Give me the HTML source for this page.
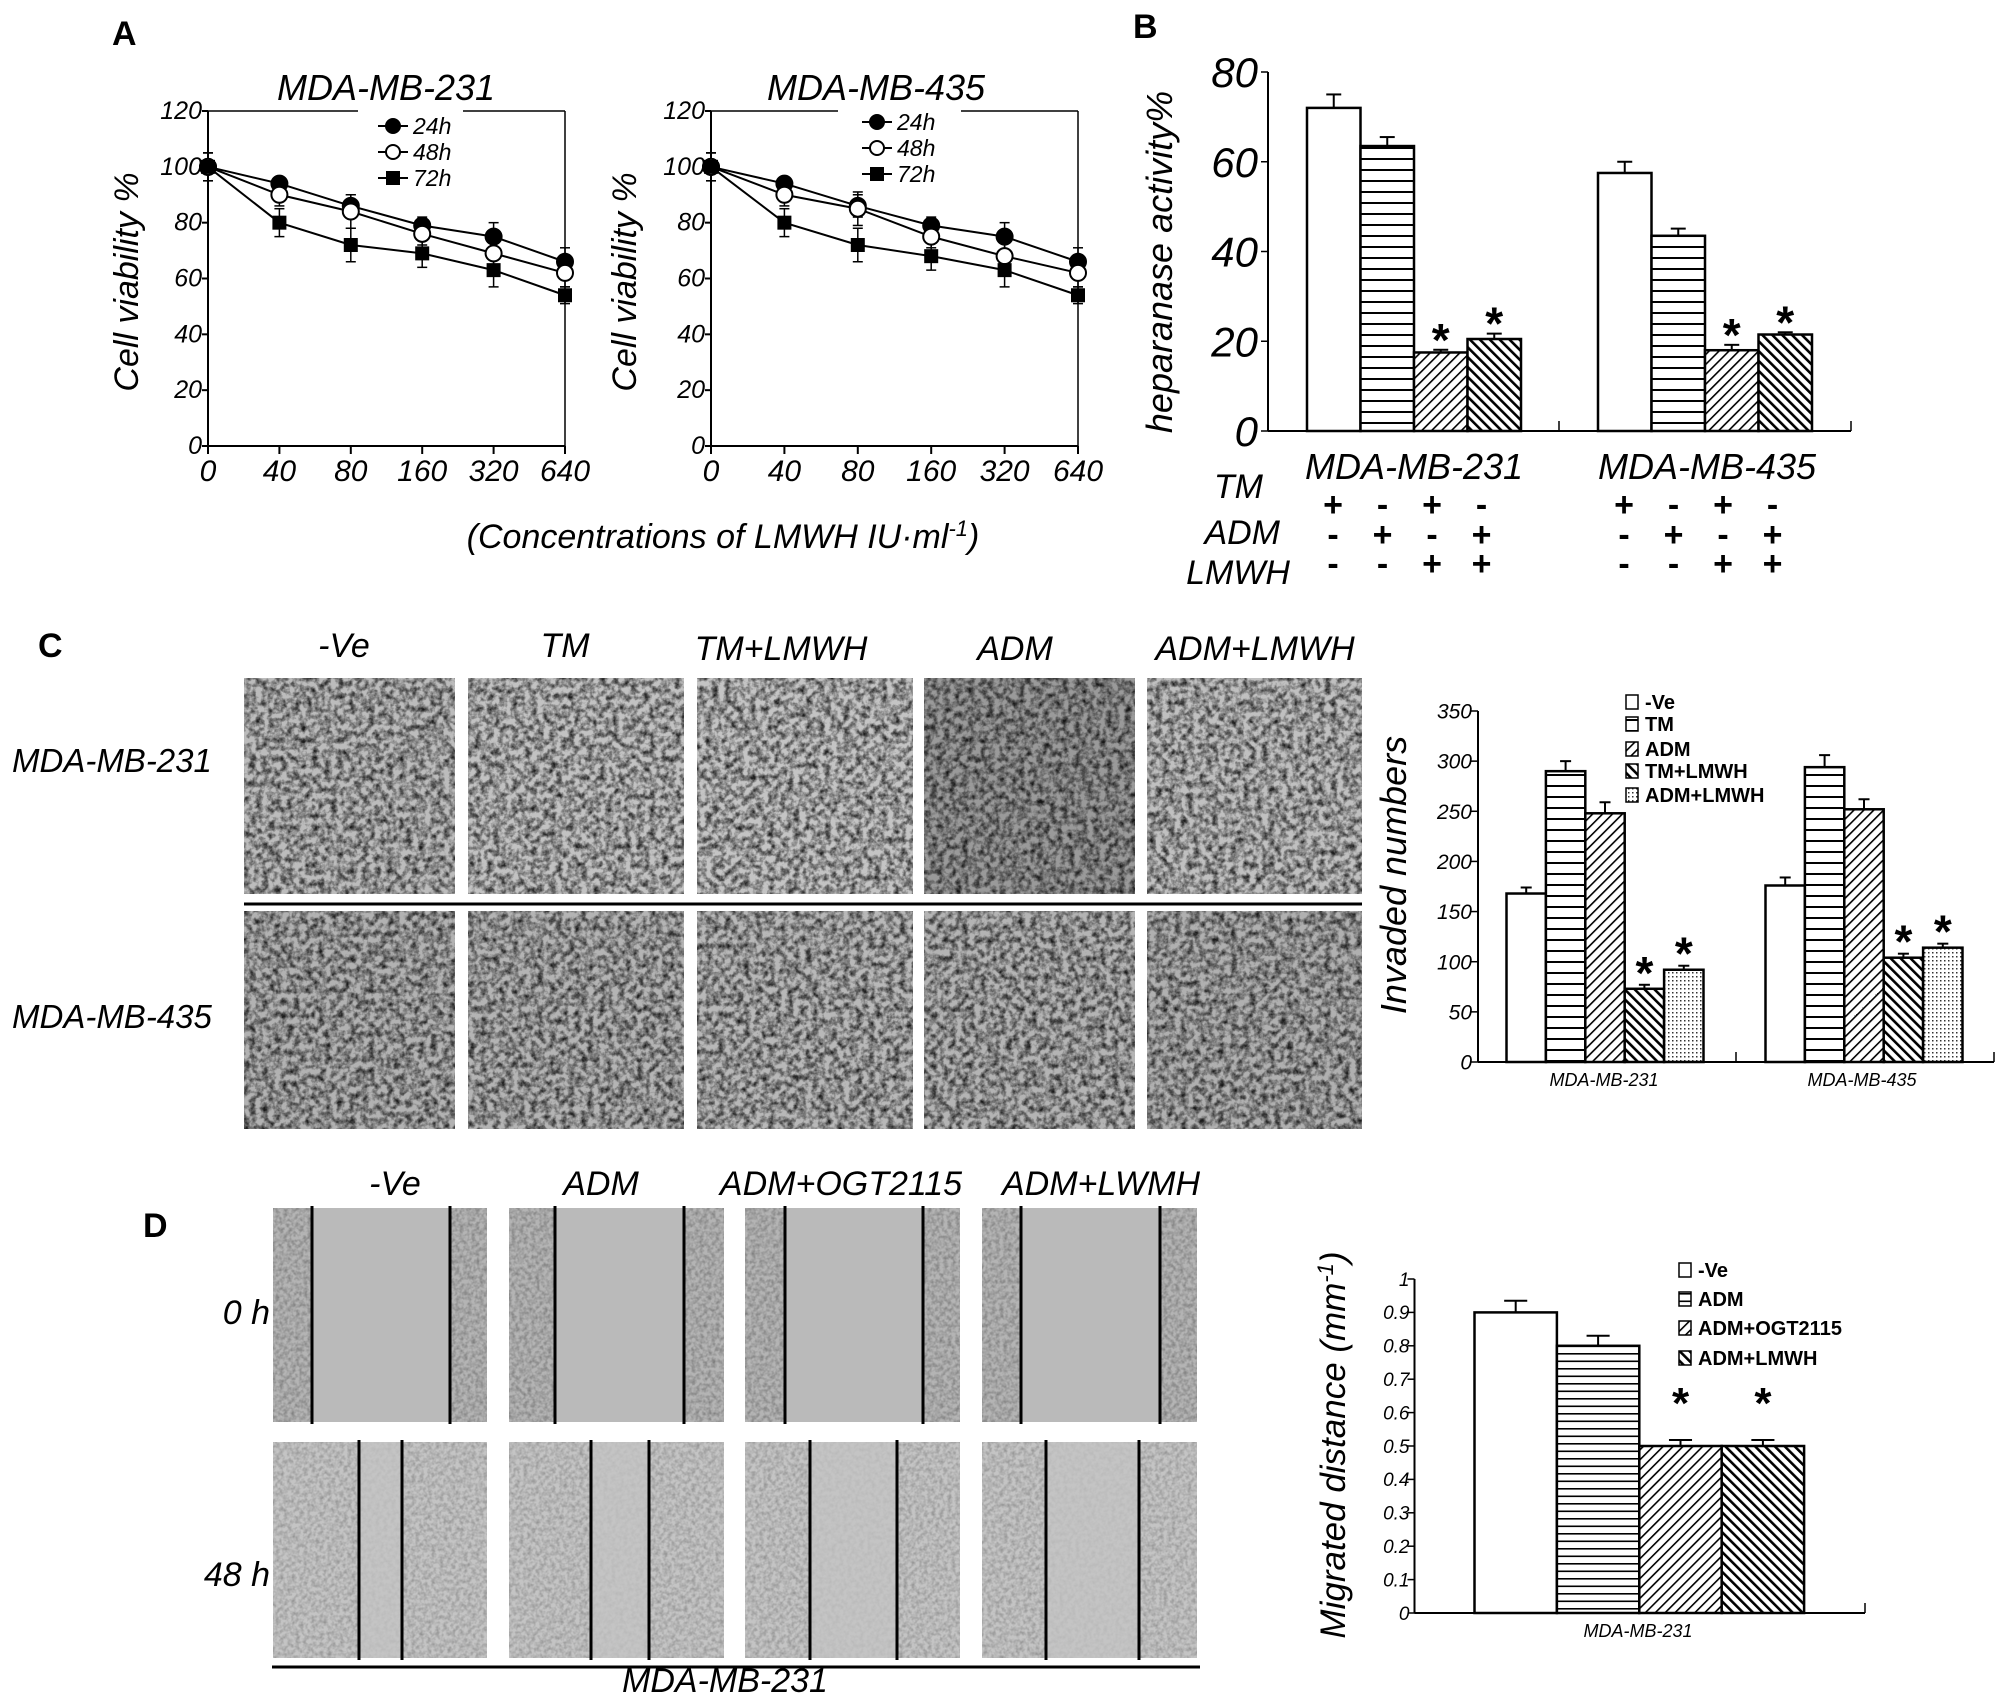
<!DOCTYPE html>
<html><head><meta charset="utf-8"><style>
html,body{margin:0;padding:0;background:#fff;}
svg{display:block;}
text{font-family:"Liberation Sans Narrow","Liberation Sans",sans-serif;fill:#000;}
.it{font-style:italic;}
.w{font-family:"Liberation Sans",sans-serif;}
</style></head><body>
<svg id="fig" xmlns="http://www.w3.org/2000/svg" width="2008" height="1701" viewBox="0 0 2008 1701">
<defs>
<pattern id="hl" width="10" height="11" patternUnits="userSpaceOnUse"><rect width="10" height="11" fill="#fff"/><rect y="4" width="10" height="2" fill="#000"/></pattern>
<pattern id="hl8" width="10" height="7.5" patternUnits="userSpaceOnUse"><rect width="10" height="7.5" fill="#fff"/><rect y="3" width="10" height="1.6" fill="#000"/></pattern>
<pattern id="d1" width="7" height="7" patternUnits="userSpaceOnUse" patternTransform="rotate(45)"><rect width="7" height="7" fill="#fff"/><rect width="1.6" height="7" fill="#000"/></pattern>
<pattern id="d2" width="7" height="7" patternUnits="userSpaceOnUse" patternTransform="rotate(-45)"><rect width="7" height="7" fill="#fff"/><rect width="2.6" height="7" fill="#000"/></pattern>
<pattern id="dt" width="4" height="4" patternUnits="userSpaceOnUse"><rect width="4" height="4" fill="#fff"/><rect width="1.5" height="1.5" fill="#333"/></pattern>
<filter id="cells" x="0" y="0" width="100%" height="100%"><feTurbulence type="fractalNoise" baseFrequency="0.16" numOctaves="3" seed="4"/><feColorMatrix type="matrix" values="0 0 0 0 0  0 0 0 0 0  0 0 0 0 0  2.0 0 0 0 -0.72"/></filter>
<filter id="cells2" x="0" y="0" width="100%" height="100%"><feTurbulence type="fractalNoise" baseFrequency="0.25" numOctaves="2" seed="9"/><feColorMatrix type="matrix" values="0 0 0 0 0  0 0 0 0 0  0 0 0 0 0  1.0 0 0 0 -0.35"/></filter>
</defs>

<!-- Panel labels -->
<text x="112" y="45" font-size="34" font-weight="bold" class="w">A</text>
<text x="1133" y="38" font-size="34" font-weight="bold" class="w">B</text>
<text x="38" y="657" font-size="34" font-weight="bold" class="w">C</text>
<text x="143" y="1237" font-size="34" font-weight="bold" class="w">D</text>

<!-- Panel A texts -->
<text x="386" y="100" font-size="36" class="it" text-anchor="middle">MDA-MB-231</text>
<text x="876" y="100" font-size="36" class="it" text-anchor="middle">MDA-MB-435</text>
<text transform="translate(138,282) rotate(-90)" font-size="34" class="it w" text-anchor="middle">Cell viability %</text>
<text transform="translate(636,282) rotate(-90)" font-size="34" class="it w" text-anchor="middle">Cell viability %</text>
<text x="723" y="548" font-size="34" class="it" text-anchor="middle">(Concentrations of LMWH IU·ml<tspan dy="-12" font-size="22">-1</tspan><tspan dy="12">)</tspan></text>

<!-- Panel B texts -->
<text transform="translate(1172,262) rotate(-90)" font-size="36" class="it w" text-anchor="middle">heparanase activity%</text>
<text x="1414" y="479" font-size="36" class="it" text-anchor="middle">MDA-MB-231</text>
<text x="1707" y="479" font-size="36" class="it" text-anchor="middle">MDA-MB-435</text>
<text x="1263" y="498" font-size="34" class="it" text-anchor="end">TM</text>
<text x="1280" y="544" font-size="34" class="it" text-anchor="end">ADM</text>
<text x="1290" y="584" font-size="34" class="it" text-anchor="end">LMWH</text>

<!-- Panel C texts -->
<text x="344" y="657" font-size="34" class="it" text-anchor="middle">-Ve</text>
<text x="565" y="657" font-size="34" class="it" text-anchor="middle">TM</text>
<text x="781" y="660" font-size="34" class="it" text-anchor="middle">TM+LMWH</text>
<text x="1015" y="660" font-size="34" class="it" text-anchor="middle">ADM</text>
<text x="1255" y="660" font-size="34" class="it" text-anchor="middle">ADM+LMWH</text>
<text x="12" y="772" font-size="33" class="it w">MDA-MB-231</text>
<text x="12" y="1028" font-size="33" class="it w">MDA-MB-435</text>
<text transform="translate(1406,875) rotate(-90)" font-size="36" class="it w" text-anchor="middle">Invaded numbers</text>
<text x="1604" y="1086" font-size="18" class="it" text-anchor="middle">MDA-MB-231</text>
<text x="1862" y="1086" font-size="18" class="it" text-anchor="middle">MDA-MB-435</text>

<!-- Panel D texts -->
<text x="395" y="1195" font-size="34" class="it" text-anchor="middle">-Ve</text>
<text x="601" y="1195" font-size="34" class="it" text-anchor="middle">ADM</text>
<text x="841" y="1195" font-size="34" class="it" text-anchor="middle">ADM+OGT2115</text>
<text x="1101" y="1195" font-size="34" class="it" text-anchor="middle">ADM+LWMH</text>
<text x="270" y="1324" font-size="34" class="it" text-anchor="end">0 h</text>
<text x="270" y="1586" font-size="34" class="it" text-anchor="end">48 h</text>
<text x="725" y="1692" font-size="34" class="it" text-anchor="middle">MDA-MB-231</text>
<text transform="translate(1345,1445) rotate(-90)" font-size="35" class="it w" text-anchor="middle">Migrated distance (mm<tspan dy="-12" font-size="22">-1</tspan><tspan dy="12">)</tspan></text>
<text x="1638" y="1637" font-size="18" class="it" text-anchor="middle">MDA-MB-231</text>
<g id="root"></g>
</svg>
<script>
// ---------- Panel A data ----------
const doseLabels = ['0','40','80','160','320','640'];
const yTicksA = [0,20,40,60,80,100,120];
const a231_24 = [100,94,86,79,75,66];
const a231_48 = [100,90,84,76,69,62];
const a231_72 = [100,80,72,69,63,54];
const a231_e24 = [5,2,4,3,5,5];
const a231_e48 = [5,4,6,4,5,5];
const a231_e72 = [5,5,6,5,6,3];
const a435_24 = [100,94,86,79,75,66];
const a435_48 = [100,90,85,75,68,62];
const a435_72 = [100,80,72,68,63,54];
const a435_e24 = [5,2,4,3,5,5];
const a435_e48 = [5,4,6,4,5,5];
const a435_e72 = [5,5,6,5,6,3];
const seriesNames = ['24h','48h','72h'];
// ---------- Panel B data ----------
const bGroups = ['MDA-MB-231','MDA-MB-435'];
const bTicks = [0,20,40,60,80];
const b231 = [72,63.5,17.5,20.5];
const b435 = [57.5,43.5,18,21.5];
const b231err = [3,2,0.6,1.2];
const b435err = [2.5,1.6,1.2,0.5];
const bStars = [2,3];
const bTM = ['+','-','+','-'];
const bADM = ['-','+','-','+'];
const bLMWH = ['-','-','+','+'];
// ---------- Panel C data ----------
const cCategories = ['-Ve','TM','ADM','TM+LMWH','ADM+LMWH'];
const cTicks = [0,50,100,150,200,250,300,350];
const c231 = [168,290,248,73,92];
const c435 = [176,294,252,104,114];
const c231err = [6,10,11,4,4];
const c435err = [8,12,10,4,4];
const cStars = [3,4];
// ---------- Panel D data ----------
const dCategories = ['-Ve','ADM','ADM+OGT2115','ADM+LMWH'];
const dTicks = [0,0.1,0.2,0.3,0.4,0.5,0.6,0.7,0.8,0.9,1];
const dVals = [0.9,0.8,0.5,0.5];
const dErr = [0.035,0.03,0.018,0.018];
const dStars = [2,3];

const NS='http://www.w3.org/2000/svg';
const root=document.getElementById('root');
function mk(tag,attrs,parent){const e=document.createElementNS(NS,tag);for(const k in attrs)e.setAttribute(k,attrs[k]);(parent||root).appendChild(e);return e;}
function ln(x1,y1,x2,y2,w,name){const e=mk('line',{x1:x1,y1:y1,x2:x2,y2:y2,stroke:'#000','stroke-width':w||2});


return e;}
function tx(x,y,s,size,anchor,name,extra){const e=mk('text',Object.assign({x:x,y:y,'font-size':size,'text-anchor':anchor||'middle'},extra||{}));e.textContent=s;


return e;}

// ---------- Micrographs C ----------
const cCols=[[244,455],[468,684],[697,913],[924,1135],[1147,1362]];
const cRows=[[678,894],[911,1129]];
const cBase=[['#bcbcbc','#c2c2c2','#c4c4c4','#9a9a9a','#c0c0c0'],['#b2b2b2','#b4b4b4','#b8b8b8','#b4b4b4','#b0b0b0']];
cRows.forEach((r,ri)=>cCols.forEach((c,ci)=>{
  const g=mk('g',{});
  
  
  mk('rect',{x:c[0],y:r[0],width:c[1]-c[0],height:r[1]-r[0],fill:cBase[ri][ci]},g);
  mk('rect',{x:c[0],y:r[0],width:c[1]-c[0],height:r[1]-r[0],fill:'#222',filter:'url(#cells)',opacity:0.85},g);
}));
ln(244,904,1362,904,3,'row-separator');

// ---------- Micrographs D ----------
const dCols=[[273,487],[509,724],[745,960],[982,1197]];
const dRows=[[1208,1422],[1442,1658]];
const dLines=[[[312,450],[555,684],[785,923],[1021,1160]],[[359,402],[591,649],[810,897],[1046,1139]]];
dRows.forEach((r,ri)=>dCols.forEach((c,ci)=>{
  const g=mk('g',{});
  
  
  const L=dLines[ri][ci];
  mk('rect',{x:c[0],y:r[0],width:c[1]-c[0],height:r[1]-r[0],fill:ri?'#c4c4c4':'#b4b4b4'},g);
  mk('rect',{x:c[0],y:r[0],width:c[1]-c[0],height:r[1]-r[0],fill:'#000',filter:'url(#cells2)',opacity:ri?0.45:0.55},g);
  mk('rect',{x:L[0],y:r[0],width:L[1]-L[0],height:r[1]-r[0],fill:ri?'#c4c4c4':'#bababa',opacity:ri?0.75:1},g);
  L.forEach(x=>{const l=mk('line',{x1:x,y1:r[0]-2,x2:x,y2:r[1]+2,stroke:'#000','stroke-width':3},g);
  
  });
}));
ln(272,1667,1200,1667,3,'d-underline');

// ---------- Line charts A ----------
function lineChart(p,ax,xEnd,yTop,yBot,series,errs,gapL,gapR,legX,legY){
  const xs=i=>ax+i*(xEnd-ax)/(doseLabels.length-1);
  const ys=v=>yBot-v/120*(yBot-yTop);
  ln(ax,yTop,ax,yBot,2,p+'-y-axis');
  ln(ax,yBot,xEnd,yBot,2,p+'-x-axis');
  ln(ax,yTop,gapL,yTop,1.5,p+'-frame-top-left');
  ln(gapR,yTop,xEnd,yTop,1.5,p+'-frame-top-right');
  ln(xEnd,yTop,xEnd,yBot,1.5,p+'-frame-right');
  yTicksA.forEach(t=>{ln(ax-6,ys(t),ax,ys(t),2,p+'-y-tick');tx(ax-6,ys(t)+8,String(t),25,'end',p+'-y-tick-label',{class:'it'});});
  doseLabels.forEach((d,i)=>{ln(xs(i),yBot,xs(i),yBot+8,2,p+'-x-tick');tx(xs(i),yBot+35,d,30,'middle',p+'-x-tick-label',{class:'it'});});
  series.forEach((s,si)=>{
    const pts=s.map((v,i)=>xs(i)+','+ys(v)).join(' ');
    const pl=mk('polyline',{points:pts,fill:'none',stroke:'#000','stroke-width':2});
    
    
    s.forEach((v,i)=>{const e=errs[si][i];
      ln(xs(i),ys(v+e),xs(i),ys(v-e),1.5,p+'-error-bar');
      ln(xs(i)-5,ys(v+e),xs(i)+5,ys(v+e),1.5,p+'-error-cap');
      ln(xs(i)-5,ys(v-e),xs(i)+5,ys(v-e),1.5,p+'-error-cap');});
  });
  series.forEach((s,si)=>s.forEach((v,i)=>{
    let m;
    if(si===2)m=mk('rect',{x:xs(i)-7,y:ys(v)-7,width:14,height:14,fill:'#000'});
    else m=mk('circle',{cx:xs(i),cy:ys(v),r:8,fill:si?'#fff':'#000',stroke:'#000','stroke-width':2});
    
    
  }));
  seriesNames.forEach((n,si)=>{const y=legY+si*26;
    ln(legX-15,y,legX+15,y,2,p+'-legend-line');
    let m;
    if(si===2)m=mk('rect',{x:legX-7,y:y-7,width:14,height:14,fill:'#000'});
    else m=mk('circle',{cx:legX,cy:y,r:7,fill:si?'#fff':'#000',stroke:'#000','stroke-width':2});
    
    
    tx(legX+20,y+8,n,23,'start',p+'-legend-entry',{class:'it'});
  });
}
lineChart('chart-a1',208,565,111,446,[a231_24,a231_48,a231_72],[a231_e24,a231_e48,a231_e72],358,463,393,126);
lineChart('chart-a2',711,1078,111,446,[a435_24,a435_48,a435_72],[a435_e24,a435_e48,a435_e72],838,961,877,122);

// ---------- Bar charts ----------
function barChart(c){
  const ys=v=>c.y0-v/c.max*(c.y0-c.yTop);
  const bx=(g,i)=>c.ax+c.off+g*c.step+i*c.bw;
  ln(c.ax,c.yTop,c.ax,c.y0,2,c.p+'-y-axis');
  ln(c.ax,c.y0,c.xEnd,c.y0,2,c.p+'-x-axis');
  (c.midTicks||[]).forEach(x=>ln(x,c.y0,x,c.y0-10,1.5,c.p+'-x-tick'));
  ln(c.xEnd,c.y0,c.xEnd,c.y0-10,1.5,c.p+'-x-tick');
  c.ticks.forEach(t=>{ln(c.ax-7,ys(t),c.ax,ys(t),1.5,c.p+'-y-tick');
    tx(c.ax-c.lgap,ys(t)+c.fs*0.36,String(t),c.fs,'end',c.p+'-y-tick-label',{class:'it'});});
  c.groups.forEach((vals,g)=>vals.forEach((v,i)=>{
    const x=bx(g,i),e=c.errs[g][i];
    ln(x+c.bw/2,ys(v),x+c.bw/2,ys(v+e),2,c.p+'-error-bar');
    ln(x+c.bw/2-c.bw*0.14,ys(v+e),x+c.bw/2+c.bw*0.14,ys(v+e),2,c.p+'-error-cap');
    const r=mk('rect',{x:x,y:ys(v),width:c.bw,height:c.y0-ys(v),fill:c.fills[i],stroke:'#000','stroke-width':2.5});
    
    
    if(c.stars.indexOf(i)>=0)tx(x+c.bw/2,ys(v+e)-c.sgap,'*',c.sfs,'middle',c.p+'-significance-star',{'font-weight':'bold',class:'w'});
  }));
  return {bx:bx};
}
const B=barChart({p:'chart-b',ax:1268,xEnd:1851,yTop:72,y0:431,max:80,off:39,step:291,bw:53.5,
  groups:[b231,b435],errs:[b231err,b435err],ticks:bTicks,fs:42,lgap:10,midTicks:[1559],
  fills:['#fff','url(#hl)','url(#d1)','url(#d2)'],stars:bStars,sgap:-6,sfs:46});
[bTM,bADM,bLMWH].forEach((row,ri)=>{const y=[504,534,563][ri];
  bGroups.forEach((gname,g)=>row.forEach((s,i)=>tx(B.bx(g,i)+26-i*4,y+12,s,34,'middle','chart-b-condition-sign',{class:'w','font-weight':'bold'})));});

barChart({p:'chart-c',ax:1478,xEnd:1994,yTop:711,y0:1062,max:350,off:28.5,step:259,bw:39.4,
  groups:[c231,c435],errs:[c231err,c435err],ticks:cTicks,fs:21,lgap:6,midTicks:[1736],
  fills:['#fff','url(#hl)','url(#d1)','url(#d2)','url(#dt)'],stars:cStars,sgap:-4,sfs:46});
const cLegY=[702,724,749,771,795];
const cLegF=['#fff','url(#hl)','url(#d1)','url(#d2)','url(#dt)'];
cCategories.forEach((n,i)=>{const r=mk('rect',{x:1626,y:cLegY[i]-7,width:12,height:14,fill:cLegF[i],stroke:'#000','stroke-width':1.5});
  
  
  tx(1645,cLegY[i]+7,n,20,'start','chart-c-legend-entry',{'font-weight':'bold'});});

barChart({p:'chart-d',ax:1414.5,xEnd:1865,yTop:1279,y0:1613,max:1,off:60,step:0,bw:82.4,
  groups:[dVals],errs:[dErr],ticks:dTicks,fs:19,lgap:5,midTicks:[],
  fills:['#fff','url(#hl8)','url(#d1)','url(#d2)'],stars:dStars,sgap:22,sfs:44});
const dLegY=[1270,1299,1328,1358];
const dLegF=['#fff','url(#hl8)','url(#d1)','url(#d2)'];
dCategories.forEach((n,i)=>{const r=mk('rect',{x:1679,y:dLegY[i]-7,width:12,height:14,fill:dLegF[i],stroke:'#000','stroke-width':1.5});
  
  
  tx(1698,dLegY[i]+7,n,20,'start','chart-d-legend-entry',{'font-weight':'bold'});});
</script>
</body></html>
